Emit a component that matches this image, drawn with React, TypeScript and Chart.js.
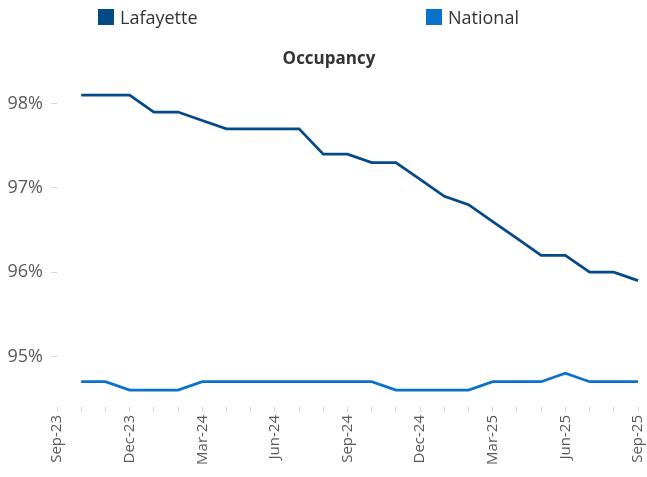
import React, { useEffect, useRef } from "react";
import { Chart, registerables } from "chart.js";

Chart.register(...registerables);

const months = [
  "Sep-23", "Oct-23", "Nov-23", "Dec-23", "Jan-24", "Feb-24", "Mar-24", "Apr-24", "May-24",
  "Jun-24", "Jul-24", "Aug-24", "Sep-24", "Oct-24", "Nov-24", "Dec-24", "Jan-25", "Feb-25",
  "Mar-25", "Apr-25", "May-25", "Jun-25", "Jul-25", "Aug-25", "Sep-25",
];

const lafayette = [
  null, 98.1, 98.1, 98.1, 97.9, 97.9, 97.8, 97.7, 97.7, 97.7, 97.7, 97.4, 97.4,
  97.3, 97.3, 97.1, 96.9, 96.8, 96.6, 96.4, 96.2, 96.2, 96.0, 96.0, 95.9,
];

const national = [
  null, 94.7, 94.7, 94.6, 94.6, 94.6, 94.7, 94.7, 94.7, 94.7, 94.7, 94.7, 94.7,
  94.7, 94.6, 94.6, 94.6, 94.6, 94.7, 94.7, 94.7, 94.8, 94.7, 94.7, 94.7,
];

const yTickValues = [95, 96, 97, 98];

const seriesNames = ["Lafayette", "National"];
const seriesColors = ["#034A87", "#0A71CC"];
const chartTitle = "Occupancy";
const yMin = 94.4;
const yMax = 98.4;

const FONT = "'Open Sans', 'Noto Sans', sans-serif";

// lets the y tick labels use the space left of the axis box (Chart.js clips labels to the box)
const widenYLabelArea = {
  id: "widenYLabelArea",
  afterLayout(chart: any) {
    const y = chart.scales.y;
    if (y) y.left = 0;
  },
};

export default function App() {
  const canvasRef = useRef<HTMLCanvasElement | null>(null);

  useEffect(() => {
    if (!canvasRef.current) return;
    const chart = new Chart(canvasRef.current, {
      type: "line",
      data: {
        labels: months,
        datasets: [
          {
            label: seriesNames[0],
            data: lafayette,
            borderColor: seriesColors[0],
            backgroundColor: seriesColors[0],
            borderWidth: 2.75,
            pointRadius: 0,
            tension: 0,
          },
          {
            label: seriesNames[1],
            data: national,
            borderColor: seriesColors[1],
            backgroundColor: seriesColors[1],
            borderWidth: 2.75,
            pointRadius: 0,
            tension: 0,
          },
        ],
      },
      plugins: [widenYLabelArea],
      options: {
        animation: false,
        responsive: true,
        maintainAspectRatio: false,
        layout: { padding: { top: 40, left: 20, right: 9, bottom: 0 } },
        plugins: {
          legend: { display: false },
          tooltip: { enabled: false },
          title: {
            display: true,
            text: chartTitle,
            color: "#333333",
            font: { family: FONT, size: 17, weight: "bold" },
            padding: { top: 9, bottom: 0.5 },
          },
        },
        scales: {
          x: {
            type: "category",
            offset: false,
            border: { display: false },
            grid: { display: true, drawOnChartArea: false, tickLength: 5, color: "#d9d9d9" },
            ticks: {
              autoSkip: false,
              minRotation: 90,
              maxRotation: 90,
              padding: 3,
              color: "#595959",
              font: { family: FONT, size: 15 },
              callback: (_v: any, i: number) => (i % 3 === 0 ? months[i] : ""),
            },
            afterFit: (s: any) => {
              s.height = 70;
              s.paddingLeft = 0;
              s.paddingRight = 0;
            },
          },
          y: {
            type: "linear",
            min: yMin,
            max: yMax,
            border: { display: false },
            grid: { display: true, drawOnChartArea: false, tickLength: 6, color: "#d9d9d9" },
            ticks: {
              padding: 8,
              autoSkip: false,
              color: "#595959",
              font: { family: FONT, size: 18 },
              callback: (v: any) => `${v}%`,
            },
            afterBuildTicks: (s: any) => {
              s.ticks = yTickValues.map((value) => ({ value }));
            },
            afterFit: (s: any) => {
              s.width = 37;
              s.paddingTop = 0;
              s.paddingBottom = 0;
            },
          },
        },
      },
    } as any);
    return () => chart.destroy();
  }, []);

  return (
    <div style={{ position: "fixed", left: 0, top: 0, width: 647, height: 477, background: "#fff" }}>
      <canvas ref={canvasRef} style={{ position: "absolute", left: 0, top: 0 }} />
      <div
        style={{
          position: "absolute",
          left: 0,
          top: 9,
          paddingLeft: 98,
          display: "flex",
          fontFamily: FONT,
          fontSize: 18,
          color: "#333333",
        }}
      >
        {seriesNames.map((name, i) => (
          <div
            key={name}
            style={{ display: "flex", alignItems: "center", width: i === 0 ? 328 : "auto", height: 16 }}
          >
            <span
              style={{ display: "inline-block", width: 16, height: 16, background: seriesColors[i], marginRight: 6 }}
            />
            <span style={{ lineHeight: "16px" }}>{name}</span>
          </div>
        ))}
      </div>
    </div>
  );
}
